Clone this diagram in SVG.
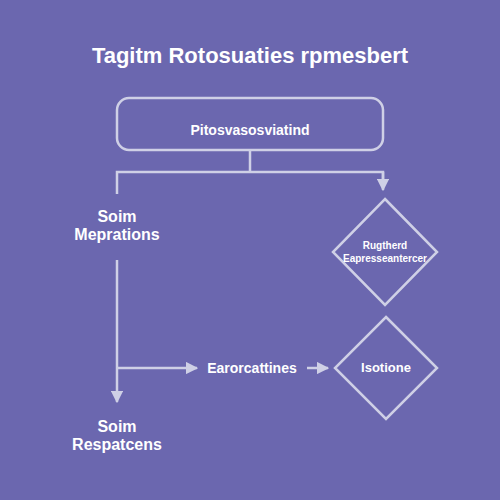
<svg xmlns="http://www.w3.org/2000/svg" width="500" height="500" viewBox="0 0 500 500">
<defs>
<marker id="ah" viewBox="0 0 10 10" refX="9" refY="5" markerWidth="5" markerHeight="5" orient="auto" markerUnits="strokeWidth">
<path d="M0,0 L10,5 L0,10 z" fill="#cfd0e6"/>
</marker>
<style>
.t{font-family:"Liberation Sans",Arial,sans-serif;font-weight:bold;fill:#ffffff;text-anchor:middle;dominant-baseline:central}
.s{fill:none;stroke:#cfd0e6;stroke-width:2.5}
.c{fill:none;stroke:#cfd0e6;stroke-width:2.5}
</style>
</defs>
<rect width="500" height="500" fill="#6b67af"/>
<text class="t" x="250" y="55" font-size="22">Tagitm Rotosuaties rpmesbert</text>
<g id="connectors">
<path class="c" d="M250,150 V172 M117,194 V172 H383 V180" />
<path class="c" d="M383,172 V190" marker-end="url(#ah)"/>
<path class="c" d="M117,260 V402" marker-end="url(#ah)"/>
<path class="c" d="M117,368 H197" marker-end="url(#ah)"/>
<path class="c" d="M307,368 H328" marker-end="url(#ah)"/>
</g>
<g id="top">
<rect class="s" x="117" y="98" width="266" height="52" rx="12"/>
<text class="t" x="250" y="130" font-size="14">Pitosvasosviatind</text>
</g>
<g id="soim-meprations">
<text class="t" x="117" y="216" font-size="16">Soim</text>
<text class="t" x="117" y="234" font-size="16">Meprations</text>
</g>
<g id="decision1">
<path class="s" d="M385,199 L437,252 L385,305 L333,252 Z"/>
<text class="t" x="385" y="245" font-size="10">Rugtherd</text>
<text class="t" x="385" y="258" font-size="10">Eapresseantercer</text>
</g>
<g id="earorcattines">
<text class="t" x="252" y="368" font-size="14">Earorcattines</text>
</g>
<g id="decision2">
<path class="s" d="M386,317 L437,368 L386,419 L335,368 Z"/>
<text class="t" x="386" y="367" font-size="13">Isotione</text>
</g>
<g id="soim-respatcens">
<text class="t" x="117" y="426" font-size="16">Soim</text>
<text class="t" x="117" y="444" font-size="16">Respatcens</text>
</g>
</svg>
